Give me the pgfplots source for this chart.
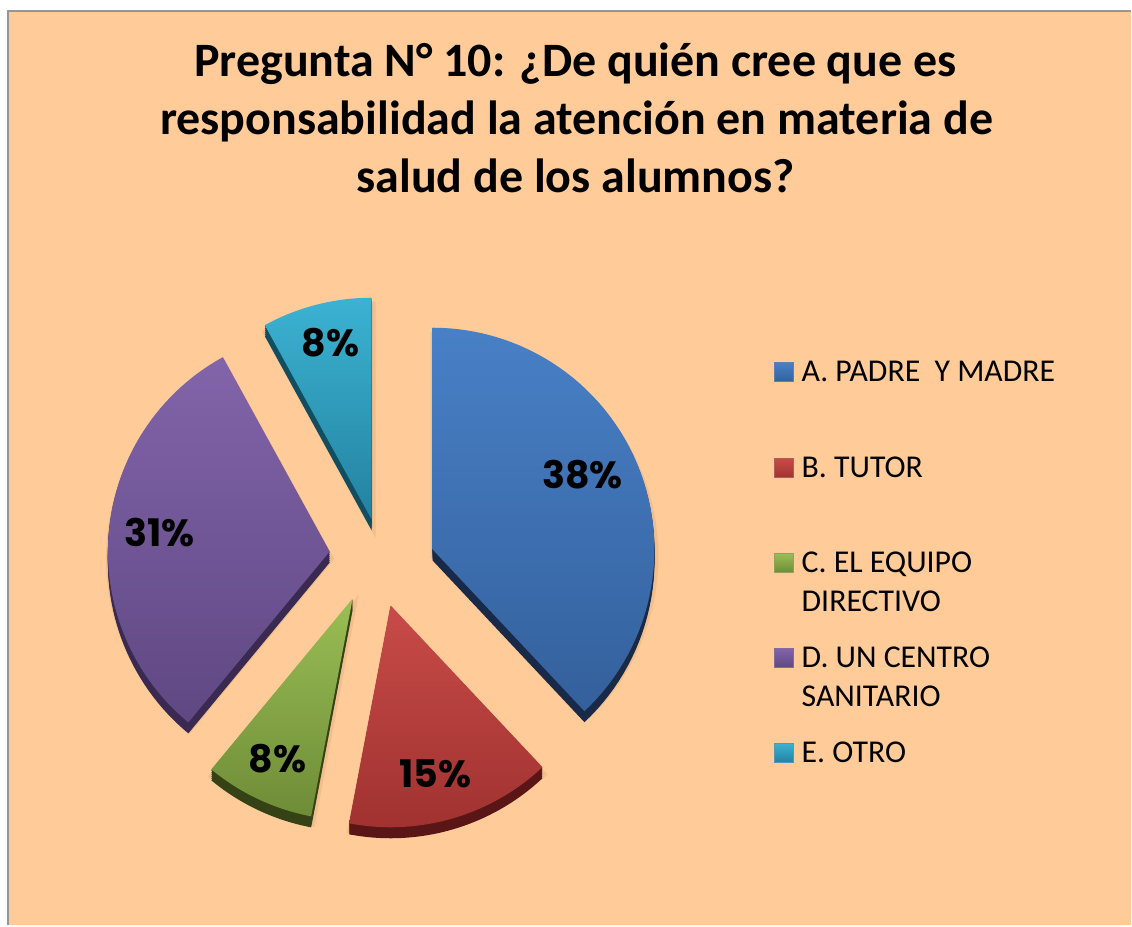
\documentclass[border=0pt]{standalone}
\usepackage{pgfplots}
\pgfplotsset{compat=1.18}
\usepackage{fontspec}
\setmainfont{Carlito}
\newfontfamily\popfont{Poppins}
\definecolor{bg}{RGB}{255,203,153}
\definecolor{bordc}{RGB}{150,150,150}
\definecolor{shadowc}{RGB}{150,100,60}
\definecolor{blueT}{RGB}{72,128,198}\definecolor{blueB}{RGB}{52,96,156}\definecolor{blueD}{RGB}{24,42,72}
\definecolor{redT}{RGB}{200,75,72}\definecolor{redB}{RGB}{160,50,48}\definecolor{redD}{RGB}{90,22,22}
\definecolor{greenT}{RGB}{155,190,85}\definecolor{greenB}{RGB}{110,140,55}\definecolor{greenD}{RGB}{52,66,22}
\definecolor{purpleT}{RGB}{130,100,170}\definecolor{purpleB}{RGB}{95,72,130}\definecolor{purpleD}{RGB}{58,42,82}
\definecolor{cyanT}{RGB}{60,178,210}\definecolor{cyanB}{RGB}{35,130,160}\definecolor{cyanD}{RGB}{18,78,96}
% data (percent)
\def\pA{38}\def\pB{15}\def\pC{8}\def\pD{31}\def\pE{8}
\pgfmathsetmacro\eA{90}
\pgfmathsetmacro\sA{\eA-3.6*\pA}
\pgfmathsetmacro\sB{\sA-3.6*\pB}
\pgfmathsetmacro\sC{\sB-3.6*\pC}
\pgfmathsetmacro\sD{\sC-3.6*\pD}
\pgfmathsetmacro\sE{\sD-3.6*\pE}
\def\R{222}
% #1 start angle, #2 end angle, #3 apex x, #4 apex y, #5 top col, #6 bottom col, #7 side col
\newcommand\slice[7]{%
  \addplot[fill=shadowc, draw=shadowc, line width=3pt, opacity=0.12, domain=#1:#2, samples=60, variable=\t]
    ({#3+1+\R*cos(\t)}, {#4-7+\R*sin(\t)}) -- ({#3+1},{#4-7}) -- cycle;
  \pgfplotsinvokeforeach{1,3,5,7,9,11}{%
    \addplot[fill=#7, draw=none, domain=#1:#2, samples=60, variable=\t]
      ({#3+\R*cos(\t)}, {#4-##1+\R*sin(\t)}) -- ({#3},{#4-##1}) -- cycle;}
  \addplot[top color=#5, bottom color=#6, draw=none, domain=#1:#2, samples=60, variable=\t]
    ({#3+\R*cos(\t)}, {#4+\R*sin(\t)}) -- ({#3},{#4}) -- cycle;
}
% legend square: #1 baseline y, #2 top, #3 bottom
\newcommand\legsq[3]{%
  \addplot[top color=#2, bottom color=#3, draw=#3!80!white, line width=0.4pt]
    coordinates {(775,#1) (794,#1) (794,{#1+19}) (775,{#1+19})} -- cycle;}
\begin{document}
\begin{tikzpicture}
\begin{axis}[width=566pt, height=463pt, scale only axis,
  xmin=0, xmax=1132, ymin=0, ymax=926, hide axis, clip=false]
\addplot[fill=white, draw=none] coordinates {(0,0) (0,926) (1132,926) (1132,0)} -- cycle;
\addplot[fill=bg, draw=none] coordinates {(8,0) (8,915) (1132,915) (1132,0)} -- cycle;
\addplot[draw=bordc, line width=1pt] coordinates {(8,0) (8,915) (1132,915)};
% slices
\slice{\sA}{\eA}{433}{376}{blueT}{blueB}{blueD}
\slice{\sB}{\sA}{391}{320}{redT}{redB}{redD}
\slice{\sC}{\sB}{353}{327}{greenT}{greenB}{greenD}
\slice{\sD}{\sC}{330}{374}{purpleT}{purpleB}{purpleD}
\slice{\sE}{\sD}{372}{406}{cyanT}{cyanB}{cyanD}
% percent labels
\begin{scope}[every node/.style={anchor=base, inner sep=0pt, font=\popfont\bfseries\fontsize{19}{21}\selectfont}]
\node at (axis cs:583,437) {38\%};
\node at (axis cs:436,138) {15\%};
\node at (axis cs:278,153) {8\%};
\node at (axis cs:160,379) {31\%};
\node at (axis cs:331,569) {8\%};
\end{scope}
% title
\begin{scope}[every node/.style={anchor=base, inner sep=0pt, font=\bfseries\fontsize{24}{29}\selectfont}]
\node at (axis cs:576,849) {Pregunta N° 10: ¿De quién cree que es};
\node at (axis cs:577,791) {responsabilidad la atención en materia de};
\node at (axis cs:576,733) {salud de los alumnos?};
\end{scope}
% legend
\legsq{544}{blueT}{blueB}
\legsq{448}{redT}{redB}
\legsq{353}{greenT}{greenB}
\legsq{258}{purpleT}{purpleB}
\legsq{163}{cyanT}{cyanB}
\begin{scope}[every node/.style={anchor=base west, inner sep=0pt, font=\fontsize{15.9}{19}\selectfont}]
\node at (axis cs:802,544) {A. PADRE\ \ Y MADRE};
\node at (axis cs:802,448) {B. TUTOR};
\node at (axis cs:802,353) {C. EL EQUIPO};
\node at (axis cs:802,314) {DIRECTIVO};
\node at (axis cs:802,258) {D. UN CENTRO};
\node at (axis cs:802,219) {SANITARIO};
\node at (axis cs:802,163) {E. OTRO};
\end{scope}
\end{axis}
\end{tikzpicture}
\end{document}
